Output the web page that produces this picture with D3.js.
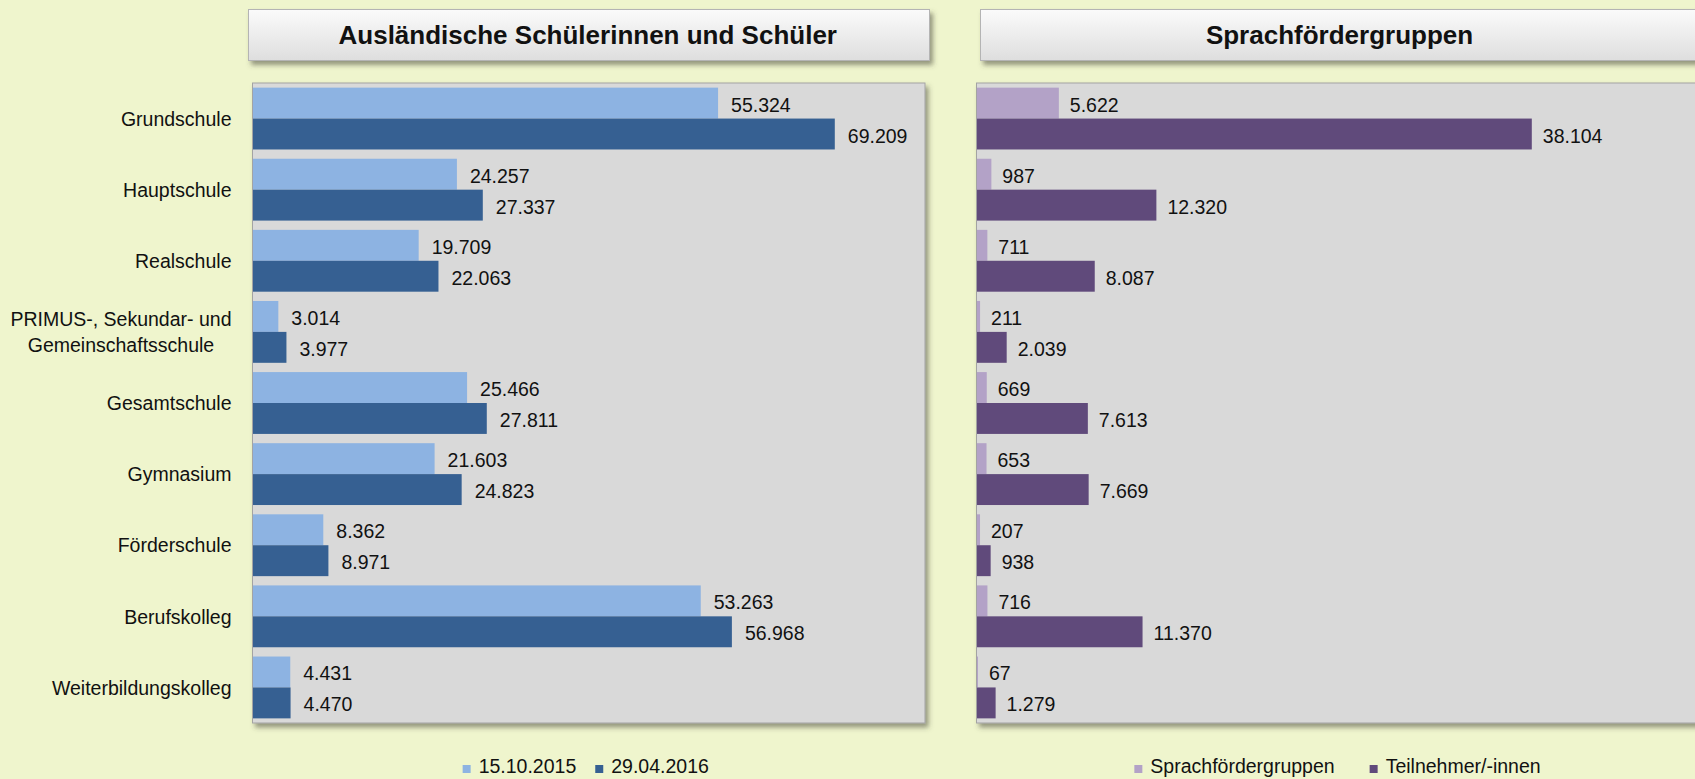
<!DOCTYPE html>
<html lang="de">
<head>
<meta charset="utf-8">
<script src="https://cdn.jsdelivr.net/npm/d3@7"></script>
<style>
  body { margin: 0; background: #eff5cd; overflow: hidden; }
  svg { display: block; font-family: "Liberation Sans", Arial, sans-serif; }
</style>
</head>
<body>
<svg id="drawing_region"></svg>
<script>
const categories = ["Grundschule", "Hauptschule", "Realschule", "PRIMUS-, Sekundar- und\nGemeinschaftsschule",
    "Gesamtschule", "Gymnasium", "Förderschule", "Berufskolleg", "Weiterbildungskolleg"];
const schueler_2015 = [55324, 24257, 19709, 3014, 25466, 21603, 8362, 53263, 4431];
const schueler_2016 = [69209, 27337, 22063, 3977, 27811, 24823, 8971, 56968, 4470];
const sprachgruppen = [5622, 987, 711, 211, 669, 653, 207, 716, 67];
const teilnehmer = [38104, 12320, 8087, 2039, 7613, 7669, 938, 11370, 1279];
const series_left = ["15.10.2015", "29.04.2016"];
const series_right = ["Sprachfördergruppen", "Teilnehmer/-innen"];

const de = d3.formatLocale({ decimal: ",", thousands: ".", grouping: [3], currency: ["", " €"] });
const fmt = de.format(",d");

const svg = d3.select('#drawing_region')
    .attr('width', 1695)
    .attr('height', 779);

svg.append('rect')
    .attr('width', 1695).attr('height', 779)
    .attr('fill', '#eff5cd');

const defs = svg.append('defs');
defs.append('filter')
    .attr('id', 'shadow')
    .attr('x', '-5%').attr('y', '-5%').attr('width', '115%').attr('height', '125%')
    .append('feDropShadow')
    .attr('dx', 3).attr('dy', 4).attr('stdDeviation', 2.5)
    .attr('flood-color', '#4a4a3a').attr('flood-opacity', 0.55);

const grad = defs.append('linearGradient')
    .attr('id', 'title_grad')
    .attr('x1', 0).attr('y1', 0).attr('x2', 0).attr('y2', 1);
grad.append('stop').attr('offset', '0%').attr('stop-color', '#fbfbfb');
grad.append('stop').attr('offset', '100%').attr('stop-color', '#dedede');

class GroupedBarChart {
    constructor(config, data) {
        this.config = {
            parent: config.parent,
            left: config.left,
            top: config.top || 83,
            width: config.width,
            height: config.height || 640,
            xmax: config.xmax,
            title: config.title,
            title_box: config.title_box,
            series: config.series,
            colors: config.colors,
            show_labels: config.show_labels || false,
            value_gap: config.value_gap || 12,
            legend_gap: config.legend_gap || 20,
            font_size: 19.5
        };
        this.data = data;

        this.init();
    }

    init() {
        let self = this;

        self.root = self.config.parent.append('g');

        // title box
        let tb = self.config.title_box;
        self.root.append('rect')
            .attr('x', tb.x).attr('y', tb.y)
            .attr('width', tb.width).attr('height', tb.height)
            .attr('fill', 'url(#title_grad)')
            .attr('stroke', '#b4b4b4')
            .attr('filter', 'url(#shadow)');

        self.root.append('text')
            .attr('x', self.config.left + self.config.width / 2 - 1)
            .attr('y', tb.y + tb.height / 2 + 9)
            .attr('text-anchor', 'middle')
            .attr('font-size', 26)
            .attr('font-weight', 'bold')
            .attr('fill', '#111')
            .text(self.config.title);

        // plot area
        self.root.append('rect')
            .attr('x', self.config.left).attr('y', self.config.top)
            .attr('width', self.config.width).attr('height', self.config.height)
            .attr('fill', '#d9d9d9')
            .attr('stroke', '#a3a3a3')
            .attr('filter', 'url(#shadow)');

        self.chart = self.root.append('g')
            .attr('transform', `translate(${self.config.left + 0.5}, ${self.config.top})`);

        self.xscale = d3.scaleLinear()
            .range([0, self.config.width]);

        self.yscale = d3.scaleBand()
            .range([0, self.config.height])
            .padding(0);

        self.subscale = d3.scaleBand()
            .paddingInner(0)
            .paddingOuter(0.15);

        self.legend_group = self.root.append('g');
    }

    update() {
        let self = this;

        self.xscale.domain([0, self.config.xmax]);
        self.yscale.domain(self.data.map(d => d.label));
        self.subscale.domain(d3.range(self.config.series.length))
            .range([0, self.yscale.bandwidth()]);

        self.render();
    }

    render() {
        let self = this;
        let fs = self.config.font_size;

        let groups = self.chart.selectAll('g.cat')
            .data(self.data)
            .join('g')
            .attr('class', 'cat')
            .attr('transform', d => `translate(0, ${self.yscale(d.label)})`);

        groups.selectAll('rect')
            .data(d => d.values)
            .join('rect')
            .attr('x', 0)
            .attr('y', (v, i) => self.subscale(i))
            .attr('width', v => self.xscale(v))
            .attr('height', self.subscale.bandwidth())
            .attr('fill', (v, i) => self.config.colors[i]);

        groups.selectAll('text.value')
            .data(d => d.values)
            .join('text')
            .attr('class', 'value')
            .attr('x', v => self.xscale(v) + self.config.value_gap)
            .attr('y', (v, i) => self.subscale(i) + self.subscale.bandwidth() / 2 + 8.5)
            .attr('font-size', fs)
            .attr('fill', '#111')
            .text(v => fmt(v));

        if (self.config.show_labels) {
            let right = -21.5;
            let labels = groups.append('text')
                .attr('class', 'cat_label')
                .attr('text-anchor', 'middle')
                .attr('font-size', fs)
                .attr('fill', '#111');

            labels.each(function (d) {
                let lines = d.label.split('\n');
                let el = d3.select(this);
                let mid = self.yscale.bandwidth() / 2 + 7.2 - (lines.length - 1) * 13;
                lines.forEach((line, k) => {
                    el.append('tspan')
                        .attr('y', mid + k * 26)
                        .text(line);
                });
                let w = d3.max(el.selectAll('tspan').nodes(), n => n.getComputedTextLength());
                el.selectAll('tspan').attr('x', right - w / 2);
            });
        }

        // legend
        let items = self.legend_group.selectAll('g.item')
            .data(self.config.series)
            .join('g')
            .attr('class', 'item');

        items.append('rect')
            .attr('width', 8).attr('height', 8)
            .attr('y', -8)
            .attr('fill', (d, i) => self.config.colors[i]);

        items.append('text')
            .attr('x', 16)
            .attr('font-size', fs)
            .attr('fill', '#111')
            .text(d => d);

        let offset = 0;
        let starts = [];
        items.each(function () {
            let w = 16 + d3.select(this).select('text').node().getComputedTextLength();
            starts.push(offset);
            offset += w + self.config.legend_gap;
        });
        let total = offset - self.config.legend_gap;
        let start = self.config.left + self.config.width / 2 - total / 2 - 3;
        items.attr('transform', (d, i) => `translate(${start + starts[i]}, 773)`);
    }
}

const left_data = categories.map((c, i) => ({ label: c, values: [schueler_2015[i], schueler_2016[i]] }));
const right_data = categories.map((c, i) => ({ label: c, values: [sprachgruppen[i], teilnehmer[i]] }));

const left_chart = new GroupedBarChart({
    parent: svg,
    left: 252.5,
    width: 672.5,
    xmax: 80000,
    title: "Ausländische Schülerinnen und Schüler",
    title_box: { x: 248.5, y: 9.5, width: 681, height: 51 },
    series: series_left,
    colors: ['#8db3e2', '#366092'],
    show_labels: true,
    value_gap: 13,
    legend_gap: 19
}, left_data);
left_chart.update();

const right_chart = new GroupedBarChart({
    parent: svg,
    left: 976.5,
    width: 728,
    xmax: 50000,
    title: "Sprachfördergruppen",
    title_box: { x: 980.5, y: 9.5, width: 730, height: 51 },
    series: series_right,
    colors: ['#b3a2c7', '#604a7b'],
    value_gap: 11,
    legend_gap: 35
}, right_data);
right_chart.update();
</script>
</body>
</html>
